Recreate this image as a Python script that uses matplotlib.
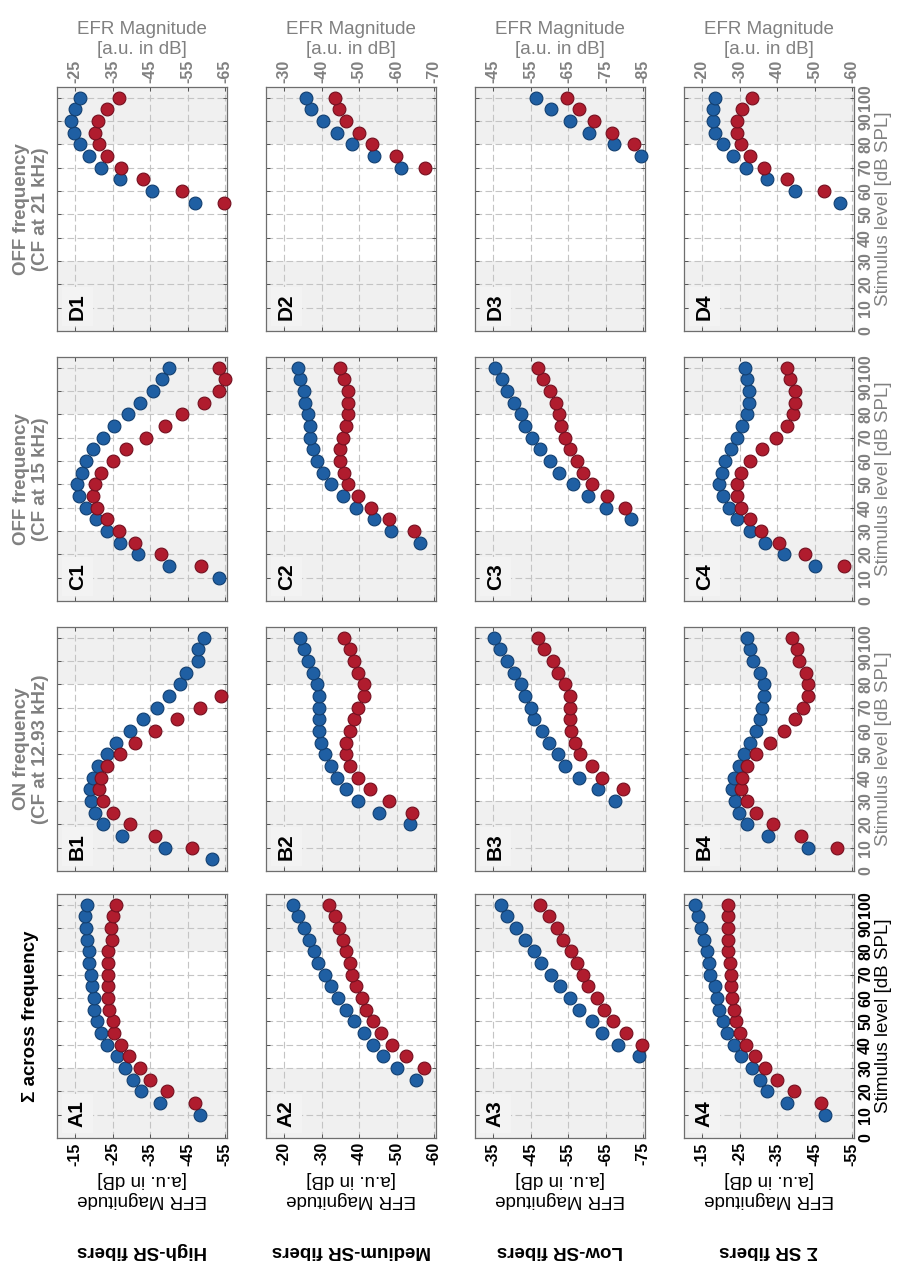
import numpy as np
import matplotlib
matplotlib.use('Agg')
from matplotlib import pyplot as plt

plt.rcParams['font.family'] = ['Liberation Sans', 'DejaVu Sans']
plt.rcParams['axes.unicode_minus'] = False

nan = np.nan
levels = np.arange(5, 101, 5)  # stimulus level [dB SPL]

# EFR magnitude [dB], one value per level (nan = not shown)
A1_blue = [nan, -48.3, -37.7, -32.5, -30.4, -28.2, -26.1, -23.4, -21.9, -20.9, -20.1, -20.0, -19.4, -19.2, -18.8, -18.6, -18.3, -17.8, -17.7, -18.3]
A1_red = [nan, nan, -47.0, -39.6, -35.0, -32.3, -29.5, -27.2, -25.4, -25.0, -24.0, -23.7, -23.7, -23.7, -23.7, -23.7, -24.8, -24.6, -25.0, -25.9]
B1_blue = [-51.4, -39.1, -27.6, -22.5, -20.3, -19.2, -19.1, -19.8, -21.2, -23.4, -25.9, -29.7, -33.2, -36.9, -40.0, -43.1, -44.7, -47.7, -47.7, -49.4]
B1_red = [nan, -46.3, -36.4, -29.7, -25.1, -22.5, -21.4, -22.0, -23.4, -27.1, -31.1, -36.4, -42.1, -48.2, -54.0, nan, nan, nan, nan, nan]
C1_blue = [nan, -63.5, -50.1, -41.7, -37.1, -33.4, -30.5, -27.8, -26.1, -25.6, -26.8, -27.8, -29.8, -32.5, -35.5, -39.2, -42.4, -45.9, -48.3, -50.1]
C1_red = [nan, nan, -58.7, -47.9, -41.1, -36.6, -33.4, -30.8, -29.8, -30.4, -32.0, -35.1, -38.5, -43.8, -49.0, -53.5, -59.4, -63.3, -65.1, -63.3]
D1_blue = [nan] * 10 + [-57.0, -45.6, -37.0, -31.8, -28.7, -26.2, -24.6, -24.0, -25.0, -26.2]
D1_red = [nan] * 10 + [-64.7, -53.4, -43.0, -37.2, -33.6, -31.4, -30.3, -31.0, -33.6, -36.6]

A2_blue = [nan] * 4 + [-55.3, -50.1, -46.3, -43.7, -41.2, -38.6, -36.5, -34.5, -32.6, -30.9, -29.1, -27.9, -26.6, -25.4, -23.7, -22.4]
A2_red = [nan] * 5 + [-57.3, -52.6, -48.9, -45.8, -43.7, -41.8, -40.7, -39.2, -38.2, -37.7, -36.6, -35.6, -34.6, -33.5, -32.1]
B2_blue = [nan] * 3 + [-53.7, -45.4, -39.6, -36.6, -34.0, -32.4, -31.0, -29.9, -29.3, -29.3, -29.3, -29.3, -28.9, -27.8, -26.3, -25.2, -24.2]
B2_red = [nan] * 4 + [-54.2, -48.0, -42.8, -39.6, -37.6, -36.6, -36.6, -37.6, -38.7, -39.6, -41.3, -41.3, -39.6, -38.7, -37.6, -36.1]
C2_blue = [nan] * 4 + [-66.3, -58.6, -53.9, -49.2, -45.6, -42.5, -40.4, -38.9, -37.8, -36.8, -36.8, -36.3, -35.7, -35.2, -34.2, -33.7]
C2_red = [nan] * 5 + [-64.6, -58.0, -53.3, -49.6, -47.1, -46.1, -45.0, -45.0, -45.6, -46.6, -47.1, -47.1, -47.1, -46.1, -45.0]
D2_blue = [nan] * 13 + [-61.1, -53.9, -48.2, -44.0, -40.5, -37.3, -35.9]
D2_red = [nan] * 13 + [-67.5, -59.8, -53.4, -49.9, -46.5, -44.6, -43.5]

A3_blue = [nan] * 6 + [-73.8, -68.2, -64.1, -61.3, -58.0, -55.5, -52.9, -50.4, -47.9, -45.8, -43.5, -41.1, -38.7, -37.2]
A3_red = [nan] * 7 + [-74.6, -70.5, -67.0, -64.6, -62.8, -60.4, -58.9, -57.4, -55.8, -53.6, -52.1, -50.0, -47.6]
B3_blue = [nan] * 5 + [-67.6, -63.1, -57.8, -54.3, -52.3, -49.8, -48.0, -46.0, -45.1, -43.5, -42.4, -40.7, -38.7, -36.8, -35.2]
B3_red = [nan] * 6 + [-69.6, -64.1, -61.5, -58.2, -56.8, -55.9, -55.6, -55.4, -55.4, -54.3, -52.3, -51.0, -48.5, -47.0]
C3_blue = [nan] * 6 + [-81.8, -75.2, -70.4, -66.2, -62.6, -60.1, -57.6, -55.5, -53.5, -52.4, -50.7, -48.7, -47.4, -45.4]
C3_red = [nan] * 7 + [-80.3, -75.4, -71.5, -68.9, -67.4, -65.4, -64.2, -63.1, -62.7, -61.7, -60.1, -58.4, -56.9]
D3_blue = [nan] * 14 + [-84.4, -77.2, -70.6, -65.6, -60.5, -56.4]
D3_red = [nan] * 15 + [-82.7, -76.6, -72.0, -67.8, -64.7]

A4_blue = [nan, -47.9, -37.6, -32.4, -30.4, -28.2, -25.5, -23.6, -21.6, -20.5, -19.4, -18.9, -18.5, -17.2, -16.8, -16.3, -15.4, -14.7, -13.9, -13.2]
A4_red = [nan, nan, -46.6, -39.4, -35.0, -31.7, -29.2, -26.6, -25.1, -24.0, -23.5, -23.1, -22.6, -22.6, -22.5, -22.0, -22.0, -22.0, -22.0, -22.0]
B4_blue = [nan, -43.2, -32.5, -27.0, -24.8, -23.7, -23.1, -23.5, -24.8, -26.3, -27.9, -29.5, -30.4, -31.0, -31.6, -31.6, -30.4, -28.5, -27.9, -27.0]
B4_red = [nan, -51.1, -41.3, -34.0, -29.5, -27.0, -25.3, -25.7, -27.0, -29.5, -33.0, -36.8, -39.7, -41.9, -43.2, -43.2, -42.8, -40.8, -40.2, -38.9]
C4_blue = [nan, nan, -50.0, -41.8, -36.7, -32.9, -29.4, -27.2, -25.7, -24.6, -25.2, -26.1, -27.8, -29.4, -30.7, -32.0, -32.5, -32.5, -32.0, -31.4]
C4_red = [nan, nan, -57.9, -47.4, -40.5, -35.8, -32.9, -30.4, -29.4, -29.4, -30.4, -32.9, -36.0, -39.6, -42.6, -44.3, -44.7, -44.7, -43.4, -42.6]
D4_blue = [nan] * 10 + [-56.8, -44.9, -37.2, -31.8, -28.2, -25.7, -23.5, -23.0, -23.0, -23.4]
D4_red = [nan] * 11 + [-52.6, -42.7, -36.4, -32.9, -30.3, -29.2, -29.2, -30.7, -33.4]

row_names = ['High-SR fibers', 'Medium-SR fibers', 'Low-SR fibers', 'Σ SR fibers']
col_titles = ['Σ across frequency', 'ON frequency\n(CF at 12.93 kHz)',
              'OFF frequency\n(CF at 15 kHz)', 'OFF frequency\n(CF at 21 kHz)']
col_keys = ['A', 'B', 'C', 'D']
# first (highest) EFR tick of each row, for columns A/B and C/D
top_tick_AB = [-15, -20, -35, -15]
top_tick_CD = [-25, -30, -45, -20]

series = {
    'A1': (A1_blue, A1_red), 'B1': (B1_blue, B1_red), 'C1': (C1_blue, C1_red), 'D1': (D1_blue, D1_red),
    'A2': (A2_blue, A2_red), 'B2': (B2_blue, B2_red), 'C2': (C2_blue, C2_red), 'D2': (D2_blue, D2_red),
    'A3': (A3_blue, A3_red), 'B3': (B3_blue, B3_red), 'C3': (C3_blue, C3_red), 'D3': (D3_blue, D3_red),
    'A4': (A4_blue, A4_red), 'B4': (B4_blue, B4_red), 'C4': (C4_blue, C4_red), 'D4': (D4_blue, D4_red),
}

BLUE, BLUE_EDGE = '#1f5fa3', '#123f70'
RED, RED_EDGE = '#b01c2e', '#741020'
GRAY_TXT = '#808080'
BAND = '#f0f0f0'
TICK_FS = 11.5

W, H = 904, 1265
fig = plt.figure(figsize=(W / 100, H / 100), dpi=100)

strip_x = [57, 266, 475, 684]          # image columns = fiber types
panel_top = [894, 627, 357, 87]        # A (bottom) .. D (top)
aw, ah = 170, 244

for r in range(4):
    for c, key in enumerate(col_keys):
        name = key + str(r + 1)
        x0, y0 = strip_x[r], panel_top[c]
        ax = fig.add_axes([x0 / W, 1 - (y0 + ah) / H, aw / W, ah / H])
        t0 = top_tick_AB[r] if c < 2 else top_tick_CD[r]
        xt = [t0 - 10 * i for i in range(5)]
        yt = list(range(0, 101, 10))
        ax.set_xlim(t0 + 4.8, t0 - 40.5)
        ax.set_ylim(0, 104.5)
        ax.axhspan(0, 30, color=BAND, zorder=0, lw=0)
        ax.axhspan(80, 104.5, color=BAND, zorder=0, lw=0)
        ax.set_axisbelow(True)
        for sp in ax.spines.values():
            sp.set_color('#6e6e6e')
            sp.set_linewidth(0.9)

        tcol = 'black' if c == 0 else GRAY_TXT
        ax.set_xticks(xt)
        ax.set_yticks(yt)
        ax.set_xticklabels([str(v) for v in xt], fontweight='bold', fontsize=TICK_FS,
                           rotation=90, color=tcol)
        ax.set_yticklabels([str(v) for v in yt], fontweight='bold', fontsize=TICK_FS,
                           rotation=90, color=tcol, va='center')
        ax.grid(True, ls=(0, (6, 3)), color='#c4c4c4', lw=0.8)
        ax.tick_params(direction='in', length=3, width=0.7, color='#555555',
                       top=True, bottom=True, left=True, right=True, pad=3,
                       labelbottom=(c == 0), labeltop=(c == 3),
                       labelleft=False, labelright=(r == 3))

        blue, red = series[name]
        ax.scatter(blue, levels, s=85, c=BLUE, edgecolors=BLUE_EDGE, linewidths=0.8, zorder=3, clip_on=False)
        ax.scatter(red, levels, s=85, c=RED, edgecolors=RED_EDGE, linewidths=0.8, zorder=3, clip_on=False)

        ax.text(0.12, 0.1, name, transform=ax.transAxes, rotation=90, ha='center', va='center',
                fontsize=15, fontweight='bold', zorder=4,
                bbox=dict(boxstyle='square,pad=0.3', fc='#f3f3f3', ec='none'))

        if c == 0:
            ax.set_xlabel('EFR Magnitude\n[a.u. in dB]', rotation=180, fontsize=13.5,
                          color=tcol, labelpad=4)
        if c == 3:
            ax.xaxis.set_label_position('top')
            ax.set_xlabel('EFR Magnitude\n[a.u. in dB]', fontsize=13.5, color=tcol, labelpad=4)
        if r == 3:
            ax.yaxis.set_label_position('right')
            ax.set_ylabel('Stimulus level [dB SPL]', rotation=90, fontsize=13.5, color=tcol, labelpad=1)

# row labels (fiber types) along the bottom, upside down
for r, txt in enumerate(row_names):
    fig.text((strip_x[r] + aw / 2) / W, 1 - 1250 / H, txt, rotation=180, ha='center', va='center',
             fontsize=13.5, fontweight='bold')

# column titles along the left
for c, txt in enumerate(col_titles):
    fig.text(31 / W, 1 - (panel_top[c] + ah / 2) / H, txt, rotation=90, ha='center', va='center',
             fontsize=13.5, fontweight='bold', multialignment='center',
             color='black' if c == 0 else GRAY_TXT)

fig.savefig('out.png', dpi=100)
plt.close(fig)
